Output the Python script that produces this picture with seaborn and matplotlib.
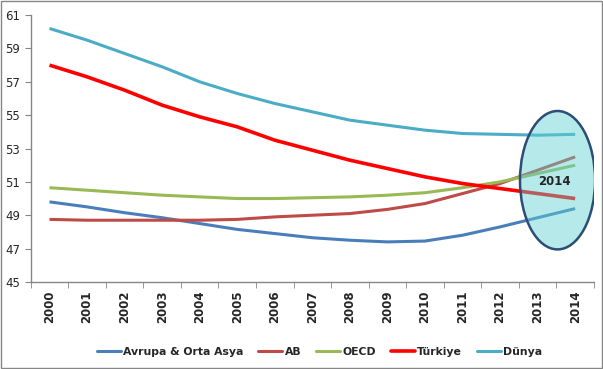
import numpy as np
import pandas as pd
import matplotlib
matplotlib.use("Agg")
import matplotlib.pyplot as plt
import seaborn as sns
from matplotlib.patches import Ellipse, Rectangle

years = list(range(2000, 2015))
avrupa = [49.8, 49.5, 49.15, 48.85, 48.5, 48.15, 47.9, 47.65, 47.5, 47.4, 47.45, 47.8, 48.3, 48.85, 49.4]
ab = [48.75, 48.7, 48.7, 48.7, 48.7, 48.75, 48.9, 49.0, 49.1, 49.35, 49.7, 50.3, 50.9, 51.7, 52.5]
oecd = [50.65, 50.5, 50.35, 50.2, 50.1, 50.0, 50.0, 50.05, 50.1, 50.2, 50.35, 50.65, 51.0, 51.5, 52.0]
turkiye = [58.0, 57.3, 56.5, 55.6, 54.9, 54.3, 53.5, 52.9, 52.3, 51.8, 51.3, 50.9, 50.6, 50.3, 50.0]
dunya = [60.2, 59.5, 58.7, 57.9, 57.0, 56.3, 55.7, 55.2, 54.7, 54.4, 54.1, 53.9, 53.85, 53.8, 53.85]

series = ["Avrupa & Orta Asya", "AB", "OECD", "Türkiye", "Dünya"]
colors = ["#4a7ebb", "#be4b48", "#98b954", "#ff0000", "#4bacc6"]
widths = [2.2, 2.2, 2.2, 2.6, 2.2]

df = pd.DataFrame({"year": years * 5,
                   "value": avrupa + ab + oecd + turkiye + dunya,
                   "series": sum([[s] * len(years) for s in series], [])})

sns.set_style("white")
plt.rcParams['font.family'] = ['DejaVu Sans']

fig = plt.figure(figsize=(6.03, 3.69), dpi=100)
ax = fig.add_axes([0.051, 0.236, 0.934, 0.723])

sns.lineplot(data=df, x="year", y="value", hue="series", hue_order=series,
             palette=colors, ax=ax, legend=False)
for line, w in zip(ax.get_lines(), widths):
    line.set_linewidth(w)
    line.set_solid_capstyle("butt")

# highlight ellipse around 2014
ax.add_patch(Ellipse((2013.53, 51.1), 2.0, 8.3, facecolor="#5fd2d2", alpha=0.45,
                     edgecolor="none", zorder=4))
ax.add_patch(Ellipse((2013.53, 51.1), 2.0, 8.3, facecolor="none",
                     edgecolor="#2c4d75", lw=1.8, zorder=5))
ax.text(2013.45, 51.0, "2014", ha="center", va="center", fontsize=8.5,
        fontweight="bold", zorder=6)

ax.set_xlim(1999.5, 2014.5)
ax.set_ylim(45, 61)
ax.set_yticks(range(45, 62, 2))
ax.set_xticks(years)
ax.set_xticks(np.arange(1999.5, 2015, 1), minor=True)
ax.set_xticklabels([str(y) for y in years], rotation=90, fontweight="bold", fontsize=8.5)
ax.tick_params(axis="x", which="major", length=0, pad=6)
ax.tick_params(axis="x", which="minor", length=4, color="#868686", direction="out", bottom=True)
ax.tick_params(axis="y", length=4, color="#868686", direction="out", left=True, labelsize=8.5)
ax.set_xlabel("")
ax.set_ylabel("")
for s in ["top", "right"]:
    ax.spines[s].set_visible(False)
for s in ["left", "bottom"]:
    ax.spines[s].set_color("#868686")
    ax.spines[s].set_linewidth(1)

handles = [plt.Line2D([], [], color=c, lw=w) for c, w in zip(colors, widths)]
leg = fig.legend(handles, series, loc="center", bbox_to_anchor=(0.53, 0.047), ncol=5,
                 frameon=False, handlelength=2.2, handletextpad=0.2,
                 columnspacing=1.4, prop={"weight": "bold", "size": 7.8})

fig.add_artist(Rectangle((0.001, 0.002), 0.997, 0.995, transform=fig.transFigure,
                         fill=False, edgecolor="#868686", lw=1))

fig.savefig("out.png", dpi=100)
